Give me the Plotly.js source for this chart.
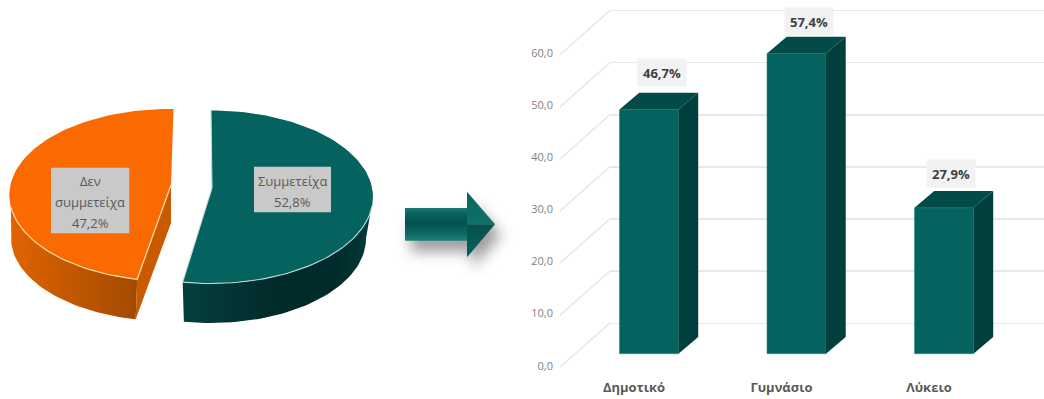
<!DOCTYPE html>
<html>
<head>
<meta charset="utf-8">
<script src="https://cdn.plot.ly/plotly-3.0.0.min.js"></script>
<style>html,body{margin:0;padding:0;background:#fff}#chart{width:1044px;height:399px}</style>
</head>
<body>
<div id="chart"></div>
<script>
// Participation split
const pieLabels = [['Συμμετείχα'], ['Δεν', 'συμμετείχα']];
const pieValues = [52.8, 47.2];

// Participation by school level
const levels = ['Δημοτικό', 'Γυμνάσιο', 'Λύκειο'];
const levelValues = [46.7, 57.4, 27.9];
const valueTicks = [0, 10, 20, 30, 40, 50, 60];

const W = 1044, H = 399;
const TEAL = '#04625f', TEAL_TOP = '#024b48', TEAL_SIDE = '#013f3d';
const comma = (v, d) => v.toFixed(d).replace('.', ',');
const traces = [];
const poly = (xs, ys, axes, extra) => traces.push(Object.assign({
  type: 'scatter', mode: 'lines', x: xs, y: ys, xaxis: axes[0], yaxis: axes[1],
  fill: 'toself', line: {width: 0}, hoverinfo: 'skip', showlegend: false
}, extra));

// Rear wall: only carries the horizontal gridlines
traces.push({type: 'scatter', mode: 'lines', x: [0, 1], y: [0, 0], xaxis: 'x', yaxis: 'y',
  line: {width: 0}, hoverinfo: 'skip', showlegend: false});

// Bars: front faces come from the bar trace, top and side faces from the same values
const BAR_W = 0.4, DX = 0.1336, DY = 3.2;
traces.push({type: 'bar', x: [0, 1, 2], y: levelValues, width: BAR_W, xaxis: 'x2', yaxis: 'y2',
  marker: {color: TEAL, line: {color: '#2b8a86', width: 0.6}}, hoverinfo: 'skip', showlegend: false});
levelValues.forEach((v, i) => {
  const l = i - BAR_W / 2, r = i + BAR_W / 2;
  poly([l, r, r + DX, l + DX, l], [v, v, v + DY, v + DY, v], ['x2', 'y2'], {fillcolor: TEAL_TOP});
  poly([r, r + DX, r + DX, r, r], [0, DY, v + DY, v, 0], ['x2', 'y2'], {fillcolor: TEAL_SIDE});
});

// Floor-to-wall guides running from each value label back to its gridline
const GUIDE_X = [-0.502, -0.163], GUIDE_RISE = 8.2;
valueTicks.forEach(v => traces.push({type: 'scatter', mode: 'lines', x: GUIDE_X, y: [v - 0.3, v + GUIDE_RISE],
  xaxis: 'x3', yaxis: 'y3', line: {color: '#e6e6e6', width: 1.4}, hoverinfo: 'skip', showlegend: false}));

// Tilted pie: slice sweeps come from pieValues, drawn in page-sized axes
const arc = (p, a0, a1) => {
  const xs = [], ys = [], n = Math.max(2, Math.ceil(Math.abs(a1 - a0) / 2));
  for (let k = 0; k <= n; k++) {
    const t = (a0 + (a1 - a0) * k / n) * Math.PI / 180;
    xs.push(p.cx + p.rx * Math.sin(t));
    ys.push(p.cy - p.ry * Math.cos(t));
  }
  return [xs, ys];
};
const rev = a => a.slice().reverse();
const P = ['x4', 'y4'];
const tealSweep = pieValues[0] / 100 * 360;
const orangeSweep = pieValues[1] / 100 * 360;

const tealTop = {cx: 211, cy: 197, rx: 162, ry: 86.5}, tealBase = {cx: 211, cy: 238.5, rx: 155, ry: 84.5};
const tealApex = [212, 188];
const orangeTop = {cx: 169.3, cy: 195, rx: 160, ry: 86}, orangeBase = {cx: 167, cy: 238, rx: 156, ry: 83};
const orangeApex = [171, 185], orangeApexLow = [171, 223];
const oEnd = 361.5, oStart = oEnd - orangeSweep;

// teal outer wall
{
  const [tx, ty] = arc(tealTop, 100, tealSweep), [bx, by] = arc(tealBase, 90, tealSweep);
  poly(tx.concat(rev(bx), tx[0]), ty.concat(rev(by), ty[0]), P, {
    fillcolor: '#01302f',
    fillgradient: {type: 'horizontal', colorscale: [[0, '#063f3f'], [0.45, '#012c2c'], [0.8, '#012a2a'], [1, '#023a39']]}
  });
}
// orange outer wall and cut face
{
  const [tx, ty] = arc(orangeTop, oStart, 262), [bx, by] = arc(orangeBase, oStart, 270);
  poly(tx.concat(rev(bx), tx[0]), ty.concat(rev(by), ty[0]), P, {
    fillcolor: '#c05600',
    fillgradient: {type: 'horizontal', colorscale: [[0, '#e06400'], [0.45, '#c45800'], [1, '#a34a00']]}
  });
  poly([tx[0], bx[0], orangeApexLow[0], orangeApex[0], tx[0]],
       [ty[0], by[0], orangeApexLow[1], orangeApex[1], ty[0]], P, {fillcolor: '#c95a00'});
}
// top surfaces
{
  const [x, y] = arc(tealTop, 0, tealSweep);
  poly([tealApex[0]].concat(x, tealApex[0]), [tealApex[1]].concat(y, tealApex[1]), P, {fillcolor: TEAL});
  const [ex, ey] = arc(tealTop, 96, tealSweep);
  traces.push({type: 'scatter', mode: 'lines', x: ex.concat(tealApex[0], x[0]), y: ey.concat(tealApex[1], y[0]),
    xaxis: P[0], yaxis: P[1], line: {color: '#bcdcd8', width: 1.1}, hoverinfo: 'skip', showlegend: false});
}
{
  const [x, y] = arc(orangeTop, oStart, oEnd);
  poly([orangeApex[0]].concat(x, orangeApex[0]), [orangeApex[1]].concat(y, orangeApex[1]), P, {fillcolor: '#fb6a00'});
  const [ex, ey] = arc(orangeTop, oStart, 262);
  traces.push({type: 'scatter', mode: 'lines', x: [orangeApex[0]].concat(ex), y: [orangeApex[1]].concat(ey),
    xaxis: P[0], yaxis: P[1], line: {color: '#f7dfb0', width: 1.2}, hoverinfo: 'skip', showlegend: false});
}

// Connector arrow with a soft drop shadow
const arrowX = [405, 467, 467, 495, 467, 467, 405, 405];
const arrowY = [208, 208, 191.7, 224.3, 257.3, 240.7, 240.7, 208];
poly(arrowX.map(v => v + 6), arrowY.map(v => v + 11), P, {name: 'arrow shadow', fillcolor: 'rgba(40,40,40,0.45)'});
poly([405, 467, 467, 405, 405], [208, 208, 240.7, 240.7, 208], P, {
  fillcolor: '#05504c',
  fillgradient: {type: 'vertical', colorscale: [[0, '#1f8079'], [0.2, '#0c6b67'], [0.55, '#04504c'], [0.85, '#0b6561'], [1, '#1a7a74']]}
});
poly([467, 495, 467, 467], [191.7, 224.3, 224.3, 191.7], P, {
  fillcolor: '#0d6e69',
  fillgradient: {type: 'vertical', colorscale: [[0, '#10706b'], [1, '#0a6460']]}
});
poly([467, 495, 467, 467], [224.3, 224.3, 257.3, 224.3], P, {
  fillcolor: '#05524e',
  fillgradient: {type: 'vertical', colorscale: [[0, '#0a5f5b'], [1, '#04504c']]}
});

// Bar axes are placed so one value unit is the same length everywhere
const PX_PER_UNIT = 5.23;
const linearRange = (origin, scale, size) => [-origin / scale, (size - origin) / scale];
const yRange = (basePx, scale) => [(basePx - H) / scale, basePx / scale];

const barLabelX = [12.7, 12.5, 7], barLabelY = [37, 32, 34];
const annotations = levelValues.map((v, i) => ({
  xref: 'x2', yref: 'y2', x: i, y: v, xshift: barLabelX[i], yshift: barLabelY[i],
  xanchor: 'center', yanchor: 'middle', showarrow: false, width: 46, height: 25,
  bgcolor: '#f2f2f2', text: comma(v, 1) + '%',
  font: {family: 'Open Sans', size: 13, weight: 'bold', color: '#404040'}
}));

// Slice labels: a grey plate with evenly spaced lines of text
const pieBoxes = [{x0: 254, x1: 331, y0: 166.7, y1: 212.3, rows: [180.7, 201.7]},
                  {x0: 51, x1: 129.3, y0: 167.7, y1: 233.3, rows: [180.7, 202.2, 222.7]}];
const shapes = pieBoxes.map(b => ({type: 'rect', xref: 'x4', yref: 'y4', x0: b.x0, x1: b.x1, y0: b.y0, y1: b.y1,
  fillcolor: '#c9c9c9', line: {width: 0}, layer: 'above'}));
pieBoxes.forEach((b, i) => {
  pieLabels[i].concat(comma(pieValues[i], 1) + '%').forEach((line, k) => annotations.push({
    xref: 'x4', yref: 'y4', x: (b.x0 + b.x1) / 2, y: b.rows[k], xanchor: 'center', yanchor: 'middle',
    showarrow: false, text: line, font: {family: 'Open Sans', size: 13, color: '#595959'}
  }));
});

const hidden = {visible: false, fixedrange: true};
const layout = {
  width: W, height: H, margin: {l: 0, r: 0, t: 0, b: 0}, autosize: false,
  paper_bgcolor: '#fff', plot_bgcolor: 'rgba(0,0,0,0)', showlegend: false,
  xaxis: Object.assign({}, hidden, {domain: [610 / W, 1], range: [0, 1]}),
  yaxis: {domain: [0, 1], range: yRange(323.5, 5.22), anchor: 'x', tickvals: valueTicks,
    showgrid: true, gridcolor: '#e8e8e8', gridwidth: 1.6, zeroline: false, showline: false,
    showticklabels: false, ticks: '', fixedrange: true},
  xaxis2: Object.assign({}, hidden, {domain: [0, 1], anchor: 'y2', range: linearRange(649, 147.5, W)}),
  yaxis2: Object.assign({}, hidden, {domain: [0, 1], anchor: 'x2', range: yRange(353.7, PX_PER_UNIT)}),
  xaxis3: {domain: [0, 1], range: linearRange(634, 147.5, W), anchor: 'free', position: 21 / H,
    tickmode: 'array', tickvals: [0, 1, 2], ticktext: levels, ticks: '', showgrid: false, zeroline: false, showline: false,
    tickfont: {family: 'Open Sans', size: 13, weight: 'bold', color: '#595959'}, fixedrange: true},
  yaxis3: {domain: [0, 1], range: yRange(365.7, 5.207), anchor: 'free', position: 553 / W,
    tickmode: 'array', tickvals: valueTicks, ticktext: valueTicks.map(v => comma(v, 1)), ticks: '',
    showgrid: false, zeroline: false, showline: false,
    tickfont: {family: 'Open Sans', size: 11, color: '#7f7f7f'}, fixedrange: true},
  xaxis4: Object.assign({}, hidden, {domain: [0, 1], anchor: 'y4', range: [0, W]}),
  yaxis4: Object.assign({}, hidden, {domain: [0, 1], anchor: 'x4', range: [H, 0]}),
  shapes, annotations
};
Plotly.newPlot('chart', traces, layout, {displayModeBar: false, staticPlot: true}).then(gd => {
  // Soften the arrow's drop shadow
  gd.querySelectorAll('.scatterlayer .trace').forEach(el => {
    const cd = el.__data__;
    if (cd && cd[0] && cd[0].trace && cd[0].trace.name === 'arrow shadow') el.style.filter = 'blur(7px)';
  });
});
</script>
</body>
</html>
